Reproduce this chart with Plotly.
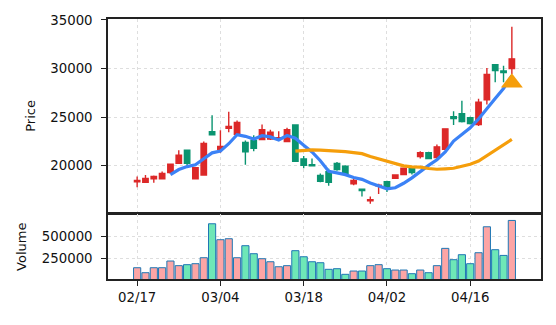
import pandas as pd
import plotly.graph_objects as go
from plotly.subplots import make_subplots

# Trading days (MM/DD)
dates = [
    "02/17", "02/18", "02/19", "02/20", "02/21",
    "02/24", "02/25", "02/26", "02/27", "02/28",
    "03/04", "03/05", "03/06", "03/07",
    "03/10", "03/11", "03/12", "03/13", "03/14",
    "03/17", "03/18", "03/19", "03/20", "03/21",
    "03/24", "03/25", "03/26", "03/27", "03/28",
    "04/01", "04/02", "04/03", "04/04",
    "04/07", "04/08", "04/09", "04/10", "04/11",
    "04/14", "04/15", "04/16", "04/17", "04/18",
    "04/21", "04/22", "04/23",
]

opens = [18350, 18300, 18650, 18650, 19300, 20250, 21600, 18650, 19050, 23500,
         21700, 23850, 23250, 22400, 22600, 22700, 22750, 22800, 22500, 24200,
         20700, 20100, 19000, 19400, 20250, 19950, 18150, 17600, 16400, 17950,
         18350, 18700, 19100, 19750, 20950, 21350, 20850, 21700, 25050, 25350,
         24950, 24250, 26800, 30400, 29750, 30000]
highs = [18900, 19050, 19000, 19400, 20150, 21600, 21650, 19850, 22500, 25200,
         23650, 25550, 24650, 22600, 23150, 24250, 23700, 23550, 23900, 24250,
         21000, 20750, 19200, 19700, 20400, 20050, 18650, 17600, 16850, 18150,
         18450, 19100, 19800, 19800, 21500, 21450, 22200, 23850, 25600, 26700,
         25050, 26900, 30050, 30400, 30300, 34300]
lows = [17800, 18250, 18250, 18600, 19150, 20200, 20000, 18600, 19000, 23150,
        21350, 23450, 23200, 20100, 21500, 22650, 22650, 22650, 22450, 20400,
        19750, 19950, 18300, 17950, 19500, 19100, 18000, 16850, 16100, 17100,
        17300, 18650, 19050, 19100, 20750, 20700, 20800, 21650, 24200, 24450,
        24250, 24100, 26300, 28600, 28600, 29450]
closes = [18500, 18700, 18900, 19200, 20150, 21100, 20250, 19800, 22300, 23200,
          22000, 24050, 24450, 21450, 21800, 23700, 23450, 22900, 23700, 20450,
          20050, 20000, 18400, 18300, 19600, 19150, 18500, 17450, 16500, 18000,
          17700, 19050, 19750, 19300, 21350, 20750, 21950, 23800, 24850, 24550,
          24350, 26550, 29400, 29800, 29600, 31000]
volumes = [149000, 93000, 149000, 149000, 224000, 172000, 183000, 194000, 261000, 642000,
           463000, 474000, 261000, 396000, 306000, 250000, 216000, 160000, 172000, 340000,
           272000, 216000, 205000, 131000, 138000, 75000, 112000, 112000, 172000, 183000,
           138000, 123000, 123000, 82000, 123000, 93000, 172000, 366000, 239000, 295000,
           194000, 317000, 608000, 351000, 287000, 679000]
# Buy-signal marker (only on the last session)
signal = [None] * 45 + [28550]

price_ticks = [20000, 25000, 30000, 35000]
volume_ticks = [250000, 500000]
date_ticks = ["02/17", "03/04", "03/18", "04/02", "04/16"]

UP = "#dc2828"
DOWN = "#0a9470"
UP_VOL = "#fca5a5"
DOWN_VOL = "#6ee7b7"
VOL_EDGE = "#1f77b4"
MA5_COLOR = "#3b82f6"
MA20_COLOR = "#f59e0b"
FONT = "DejaVu Sans"

close_s = pd.Series(closes)
ma5 = close_s.rolling(5).mean()
ma20 = close_s.rolling(20).mean()

vol_colors = [UP_VOL if c >= o else DOWN_VOL for o, c in zip(opens, closes)]

fig = make_subplots(rows=2, cols=1, shared_xaxes=True, vertical_spacing=0.006,
                    row_heights=[0.75, 0.25])

fig.add_trace(go.Candlestick(
    x=dates, open=opens, high=highs, low=lows, close=closes,
    increasing=dict(line=dict(color=UP, width=1.4), fillcolor=UP),
    decreasing=dict(line=dict(color=DOWN, width=1.4), fillcolor=DOWN),
    whiskerwidth=0, showlegend=False,
), row=1, col=1)

fig.add_trace(go.Scatter(x=dates, y=ma5, mode="lines",
                         line=dict(color=MA5_COLOR, width=3.2), showlegend=False),
              row=1, col=1)
fig.add_trace(go.Scatter(x=dates, y=ma20, mode="lines",
                         line=dict(color=MA20_COLOR, width=3.2), showlegend=False),
              row=1, col=1)
fig.add_trace(go.Scatter(x=dates, y=signal, mode="markers",
                         marker=dict(symbol="triangle-up", size=19, color=MA20_COLOR),
                         showlegend=False),
              row=1, col=1)

fig.add_trace(go.Bar(x=dates, y=volumes, width=0.86,
                     marker=dict(color=vol_colors, line=dict(color=VOL_EDGE, width=1)),
                     showlegend=False),
              row=2, col=1)

axis_common = dict(
    showline=True, linecolor="#222222", linewidth=1.5, mirror=True,
    showgrid=True, gridcolor="#dedede", gridwidth=1, griddash="dot",
    zeroline=False, tickfont=dict(family=FONT, size=13.3, color="#111111"),
)

fig.update_xaxes(**axis_common, type="category", range=[-3.5, 48.5],
                 tickmode="array", tickvals=date_ticks, ticktext=date_ticks,
                 rangeslider=dict(visible=False))
fig.update_xaxes(showticklabels=False, ticks="", row=1, col=1)
fig.update_xaxes(ticks="outside", ticklen=5, tickwidth=1.3, tickcolor="#222222",
                 row=2, col=1)

fig.update_yaxes(**axis_common, ticks="outside", ticklen=5, tickwidth=1.3,
                 tickcolor="#222222", ticklabelstandoff=6)
fig.update_yaxes(range=[15160, 35100], tickvals=price_ticks,
                 ticktext=[str(v) for v in price_ticks],
                 title=dict(text="Price", font=dict(family=FONT, size=13, color="#111111"),
                            standoff=12),
                 row=1, col=1)
fig.update_yaxes(range=[0.3 * min(volumes), 1.1 * max(volumes)], tickvals=volume_ticks,
                 ticktext=[str(v) for v in volume_ticks],
                 title=dict(text="Volume", font=dict(family=FONT, size=13, color="#111111"),
                            standoff=12),
                 row=2, col=1)

fig.update_layout(
    width=556, height=325,
    margin=dict(l=108, r=15, t=19, b=46),
    paper_bgcolor="white", plot_bgcolor="white",
    bargap=0.1, boxgap=0.35, boxgroupgap=0,
    font=dict(family=FONT, size=13.3, color="#111111"),
)

fig.write_html("out.html")
